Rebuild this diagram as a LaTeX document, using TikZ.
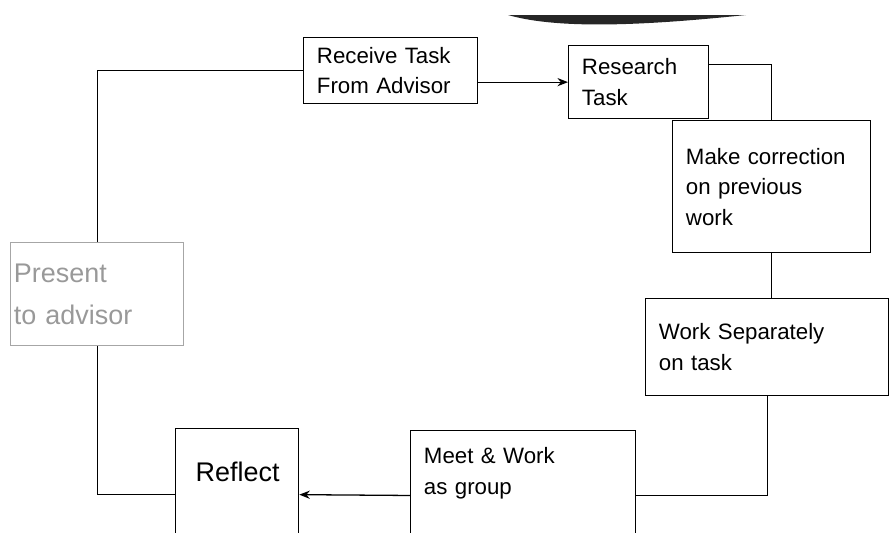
\documentclass[tikz,border=0pt]{standalone}
\usepackage{fontspec}
\setmainfont{Liberation Sans}
\usetikzlibrary{arrows.meta}

\begin{document}
\begin{tikzpicture}[
      x=0.03cm, y=-0.03cm,
      task/.style={
        draw,
        line width=1.1pt,
        align=left,
        inner xsep=0.4cm,
        inner ysep=0pt,
        anchor=north west,
        font=\fontsize{19}{26}\selectfont
      },
      big/.style={
        font=\fontsize{23}{36}\selectfont
      },
      link/.style={
        line width=1.1pt
      },
      arrow/.style={
        -{Stealth[length=9pt,width=7pt]},
        line width=1.1pt
      }
    ]
    \useasboundingbox (0,0) rectangle (890,533);

    % scan shadow at the top
    \fill[black!85] (508,15) .. controls (560,30) and (650,25) .. (746,15) -- cycle;

    \node[task,minimum height=1.98cm,text width=4.42cm] (recv) at (303,37) {Receive Task\\From Advisor};
    \node[task,minimum height=2.19cm,text width=3.4cm] (research) at (568,45) {Research\\Task};
    \node[task,minimum height=3.96cm,text width=5.14cm] (correct) at (672,120) {Make correction\\on previous\\work};
    \node[task,minimum height=2.91cm,text width=6.49cm] (separate) at (645,298) {Work Separately\\on task};
    \node[task,text width=5.95cm,text height=0.99cm,text depth=2.9cm] (meet) at (410,430) {Meet \& Work\\as group};
    \node[task,big,text width=2.49cm,text height=1.6cm,text depth=2.36cm,inner xsep=0.6cm] (reflect) at (175,428) {Reflect};
    \node[task,big,draw=black!35,text=black!40,minimum height=3.09cm,text width=4.99cm,inner xsep=0.1cm] (present) at (10,242) {Present\\to advisor};

    \draw[arrow] (recv.east |- research.west) -- (research.west);
    \draw[link] ([yshift=15pt]research.east) -| (correct.north);
    \draw[link] (correct.south) -- (correct.south |- separate.north);
    \draw[link] (separate.south) |- (meet.east);
    \draw[arrow] (meet.west) -- (reflect.east);
    \draw[link] (reflect.west) -| (present.south);
    \draw[link] (present.north) |- (recv.west);

  \end{tikzpicture}
\end{document}
